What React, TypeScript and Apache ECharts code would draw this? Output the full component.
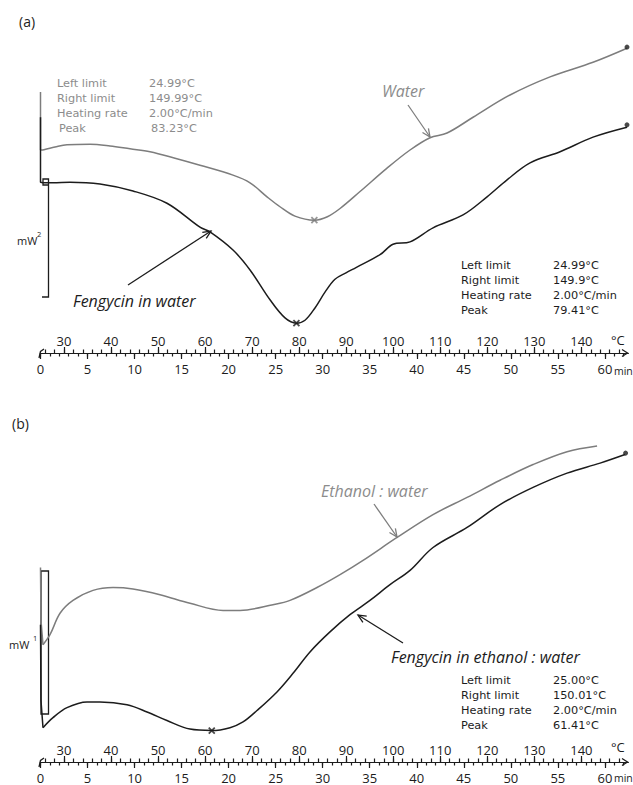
import React, { useEffect, useRef } from "react";
import * as echarts from "echarts";

// ---------- axis tick values ----------
const tempLabels = [30, 40, 50, 60, 70, 80, 90, 100, 110, 120, 130, 140];
const tempMinor = Array.from({ length: 62 }, (_, i) => 26 + i * 2);
const minuteLabels = [0, 5, 10, 15, 20, 25, 30, 35, 40, 45, 50, 55, 60];
const minuteMinor = Array.from({ length: 63 }, (_, i) => i);

// ---------- panel (a): temperature (°C), heat flow (mW, arbitrary offset) ----------
const waterSpikeA = [[25.0, 4.46], [25.0, 3.47], [25.53, 3.47]];
const waterA = [
  [25.53, 3.47], [28.08, 3.52], [30.63, 3.56], [35.53, 3.57], [39.78, 3.54],
  [44.03, 3.49], [48.28, 3.44], [53.6, 3.33], [58.91, 3.21], [65.93, 3.04],
  [69.55, 2.91], [73.16, 2.67], [75.92, 2.5], [79.11, 2.34], [83.23, 2.27],
  [86.0, 2.33], [88.69, 2.47], [92.94, 2.76], [98.68, 3.16], [103.57, 3.47],
  [107.82, 3.68], [111.44, 3.76], [116.97, 4.03], [124.83, 4.41], [133.34, 4.72],
  [142.48, 4.97], [149.7, 5.21],
];
const fengSpikeA = [[25.0, 4.03], [25.0, 2.92], [25.53, 2.91]];
const fengA = [
  [25.53, 2.91], [27.66, 2.91], [31.27, 2.92], [37.65, 2.89], [44.67, 2.77],
  [51.89, 2.56], [58.91, 2.15], [61.04, 2.07], [65.93, 1.76], [69.55, 1.42],
  [73.8, 0.91], [76.99, 0.6], [79.41, 0.51], [81.24, 0.56], [83.36, 0.77],
  [85.49, 1.04], [87.61, 1.26], [89.95, 1.37], [92.08, 1.46], [97.19, 1.68],
  [99.96, 1.86], [103.57, 1.9], [108.46, 2.14], [114.84, 2.36], [119.95, 2.67],
  [124.2, 2.96], [129.09, 3.25], [135.47, 3.44], [142.48, 3.69], [149.7, 3.86],
];
const peakWaterA = [[83.23, 2.27]];
const peakFengA = [[79.41, 0.51]];
const endsA = [[149.7, 5.23], [149.7, 3.9]];

// ---------- panel (b) ----------
const ethSpikeB = [[25.0, 1.36], [25.1, 0.99], [25.53, 0.82]];
const ethB = [
  [25.53, 0.82], [27.02, 0.89], [29.15, 1.04], [31.91, 1.13], [36.16, 1.2],
  [40.42, 1.22], [44.67, 1.21], [50.41, 1.17], [56.79, 1.11], [63.81, 1.06],
  [67.42, 1.06], [74.44, 1.1], [78.05, 1.13], [83.79, 1.22], [88.69, 1.31],
  [93.58, 1.41], [100.81, 1.57], [108.46, 1.73], [115.7, 1.85], [122.71, 1.97],
  [129.73, 2.08], [136.96, 2.17], [143.34, 2.21],
];
const fengSpikeB = [[25.0, 0.96], [25.1, 0.43], [25.53, 0.24]];
const fengB = [
  [25.53, 0.24], [27.66, 0.31], [30.63, 0.38], [34.89, 0.42], [37.65, 0.42],
  [43.39, 0.4], [47.65, 0.35], [51.89, 0.29], [56.79, 0.23], [61.41, 0.22],
  [65.29, 0.24], [68.06, 0.28], [71.03, 0.36], [75.28, 0.49], [78.69, 0.62],
  [82.3, 0.77], [86.55, 0.91], [90.8, 1.03], [95.05, 1.13], [99.31, 1.24],
  [103.57, 1.34], [108.46, 1.5], [115.7, 1.64], [122.71, 1.8], [129.73, 1.92],
  [136.96, 2.02], [143.98, 2.09], [149.28, 2.15],
];
const peakFengB = [[61.41, 0.22]];
const endsB = [[149.4, 2.16]];

// ---------- annotation texts ----------
const blockLabels = ["Left limit", "Right limit", "Heating rate", "Peak"];
const waterValsA = ["24.99°C", "149.99°C", "2.00°C/min", "83.23°C"];
const fengValsA = ["24.99°C", "149.9°C", "2.00°C/min", "79.41°C"];
const fengValsB = ["25.00°C", "150.01°C", "2.00°C/min", "61.41°C"];

const GRAY = "#7d7d7d";
const GRAY_TXT = "#8c8c8c";
const BLACK = "#1c1c1c";
const FONT = "'Open Sans', 'Noto Sans', sans-serif";
const BLOCK_FONT = "'DejaVu Sans', 'Open Sans', sans-serif";
const CROSS = "path://M0,0L10,10M10,0L0,10";

function txt(x: number, y: number, text: string, size: number, fill: string, italic = false, family = FONT) {
  return {
    type: "text",
    x,
    y,
    style: {
      text,
      fill,
      fontSize: size,
      fontFamily: family,
      fontStyle: italic ? "italic" : "normal",
      verticalAlign: "middle",
      align: "left",
    },
  };
}

function arrow(x1: number, y1: number, x2: number, y2: number, color: string) {
  const dx = x2 - x1, dy = y2 - y1;
  const L = Math.hypot(dx, dy);
  const ux = dx / L, uy = dy / L;
  const h = 8, w = 3.6;
  return [
    { type: "line", shape: { x1, y1, x2, y2 }, style: { stroke: color, lineWidth: 1.3 } },
    {
      type: "polyline",
      shape: {
        points: [
          [x2 - h * ux + w * uy, y2 - h * uy - w * ux],
          [x2, y2],
          [x2 - h * ux - w * uy, y2 - h * uy + w * ux],
        ],
      },
      style: { stroke: color, lineWidth: 1.3, fill: "none" },
    },
  ];
}

function block(x: number, xv: number, y0: number, vals: string[], fill: string, peakShift = 0) {
  const out: any[] = [];
  blockLabels.forEach((l, i) => {
    const s = i === 3 ? peakShift : 0;
    out.push(txt(x + s, y0 + i * 15, l, 11.3, fill, false, BLOCK_FONT));
    out.push(txt(xv + s, y0 + i * 15, vals[i], 11.3, fill, false, BLOCK_FONT));
  });
  return out;
}

function axesFor(grid: number) {
  const line = { color: BLACK, width: 1.2 };
  const lab = { fontSize: 13, fontFamily: FONT, color: BLACK };
  return [
    {
      gridIndex: grid, type: "value", min: 25, max: 150, position: "bottom",
      axisLine: { show: true, lineStyle: line },
      axisTick: { show: true, inside: true, length: 6, customValues: tempLabels, lineStyle: line },
      axisLabel: { show: true, inside: true, margin: 6, customValues: tempLabels, ...lab },
      splitLine: { show: false },
    },
    {
      gridIndex: grid, type: "value", min: 25, max: 150, position: "bottom",
      axisLine: { show: false },
      axisTick: { show: true, inside: true, length: 3.5, customValues: tempMinor, lineStyle: line },
      axisLabel: { show: false },
      splitLine: { show: false },
    },
    {
      gridIndex: grid, type: "value", min: 0, max: 62.5, position: "bottom",
      axisLine: { show: false },
      axisTick: { show: true, inside: false, length: 6, customValues: minuteLabels, lineStyle: line },
      axisLabel: { show: true, margin: 9, customValues: minuteLabels, ...lab },
      splitLine: { show: false },
    },
    {
      gridIndex: grid, type: "value", min: 0, max: 62.5, position: "bottom",
      axisLine: { show: false },
      axisTick: { show: true, inside: false, length: 3.5, customValues: minuteMinor, lineStyle: line },
      axisLabel: { show: false },
      splitLine: { show: false },
    },
  ];
}

function lineSeries(data: number[][], color: string, xi: number, yi: number, smooth: number | boolean) {
  return {
    type: "line", data, xAxisIndex: xi, yAxisIndex: yi, symbol: "none", smooth,
    lineStyle: { color, width: 1.5 }, silent: true, z: 3,
  };
}

function markSeries(data: number[][], color: string, xi: number, yi: number, symbol: string, size: number) {
  const cross = symbol === CROSS;
  return {
    type: "scatter", data, xAxisIndex: xi, yAxisIndex: yi, symbol, symbolSize: size, silent: true, z: 4,
    itemStyle: cross
      ? { color: "rgba(0,0,0,0)", borderColor: color, borderWidth: 1.8 }
      : { color },
  };
}

export default function App() {
  const ref = useRef<HTMLDivElement>(null);
  useEffect(() => {
    if (!ref.current) return;
    const chart = echarts.init(ref.current, undefined, { renderer: "svg" });
    const gridA = { left: 40.5, right: 4.6, top: 31.25, bottom: 432 };
    const gridB = { left: 40.5, right: 4.6, top: 418.8, bottom: 23 };

    const graphic: any[] = [
      txt(19, 21, "(a)", 14, BLACK),
      txt(12, 423, "(b)", 14, BLACK),
      ...block(57, 149, 83, waterValsA, GRAY_TXT, 2),
      ...block(461, 553, 265, fengValsA, BLACK),
      ...block(461, 553, 680, fengValsB, BLACK),
      txt(382, 91, "Water", 16, GRAY_TXT, true),
      txt(73, 301, "Fengycin in water", 16, BLACK, true),
      txt(321, 491, "Ethanol : water", 16, GRAY_TXT, true),
      txt(391, 657, "Fengycin in ethanol : water", 16, BLACK, true),
      ...arrow(128, 285, 211, 231, BLACK),
      ...arrow(408, 105, 430, 137, GRAY),
      ...arrow(374, 504, 397, 537, GRAY),
      ...arrow(403, 643, 358, 615, BLACK),
      // units at axis ends
      txt(611, 340, "°C", 13, BLACK),
      txt(614, 370.5, "min", 10.5, BLACK),
      txt(611, 747, "°C", 13, BLACK),
      txt(614, 777.5, "min", 10.5, BLACK),
      // axis arrow heads
      { type: "polyline", shape: { points: [[622, 349.5], [627.5, 353], [622, 356.5]] }, style: { stroke: BLACK, lineWidth: 1.3, fill: "none" } },
      { type: "polyline", shape: { points: [[622, 758.5], [627.5, 762], [622, 765.5]] }, style: { stroke: BLACK, lineWidth: 1.3, fill: "none" } },
      // axis start hooks
      { type: "polyline", shape: { points: [[39, 358], [40.5, 351.5], [44, 349]] }, style: { stroke: BLACK, lineWidth: 1.3, fill: "none" } },
      { type: "polyline", shape: { points: [[39, 767], [40.5, 760.5], [44, 758]] }, style: { stroke: BLACK, lineWidth: 1.3, fill: "none" } },
      // scale bar (a): 2 mW
      { type: "polyline", shape: { points: [[42, 297], [48.5, 297], [48.5, 179], [43, 179], [43, 185], [48.5, 185]] }, style: { stroke: BLACK, lineWidth: 1.3, fill: "none" } },
      txt(17, 240, "mW", 11, BLACK),
      txt(37, 234, "2", 7.5, BLACK),
      // scale bar (b): 1 mW
      { type: "rect", shape: { x: 41, y: 571, width: 7.5, height: 143 }, style: { stroke: BLACK, lineWidth: 1.3, fill: "none" } },
      txt(9, 644, "mW", 11, BLACK),
      txt(33, 638, "1", 7.5, BLACK),
    ];

    chart.setOption({
      animation: false,
      backgroundColor: "#ffffff",
      grid: [gridA, gridB],
      xAxis: [...axesFor(0), ...axesFor(1)],
      yAxis: [
        { gridIndex: 0, type: "value", min: 0, max: 5.5, show: false },
        { gridIndex: 1, type: "value", min: 0, max: 2.4, show: false },
      ],
      series: [
        lineSeries(waterSpikeA, GRAY, 0, 0, false),
        lineSeries(waterA, GRAY, 0, 0, 0.35),
        lineSeries(fengSpikeA, BLACK, 0, 0, false),
        lineSeries(fengA, BLACK, 0, 0, 0.35),
        markSeries(peakWaterA, GRAY, 0, 0, CROSS, 6),
        markSeries(peakFengA, BLACK, 0, 0, CROSS, 6),
        markSeries(endsA, BLACK, 0, 0, "circle", 5),
        lineSeries(ethSpikeB, GRAY, 4, 1, false),
        lineSeries(ethB, GRAY, 4, 1, 0.35),
        lineSeries(fengSpikeB, BLACK, 4, 1, false),
        lineSeries(fengB, BLACK, 4, 1, 0.35),
        markSeries(peakFengB, BLACK, 4, 1, CROSS, 6),
        markSeries(endsB, BLACK, 4, 1, "circle", 5),
      ],
      graphic,
    });
    return () => chart.dispose();
  }, []);
  return (
    <div
      ref={ref}
      style={{ position: "absolute", left: 0, top: 0, width: 633, height: 785, background: "#fff" }}
    />
  );
}
